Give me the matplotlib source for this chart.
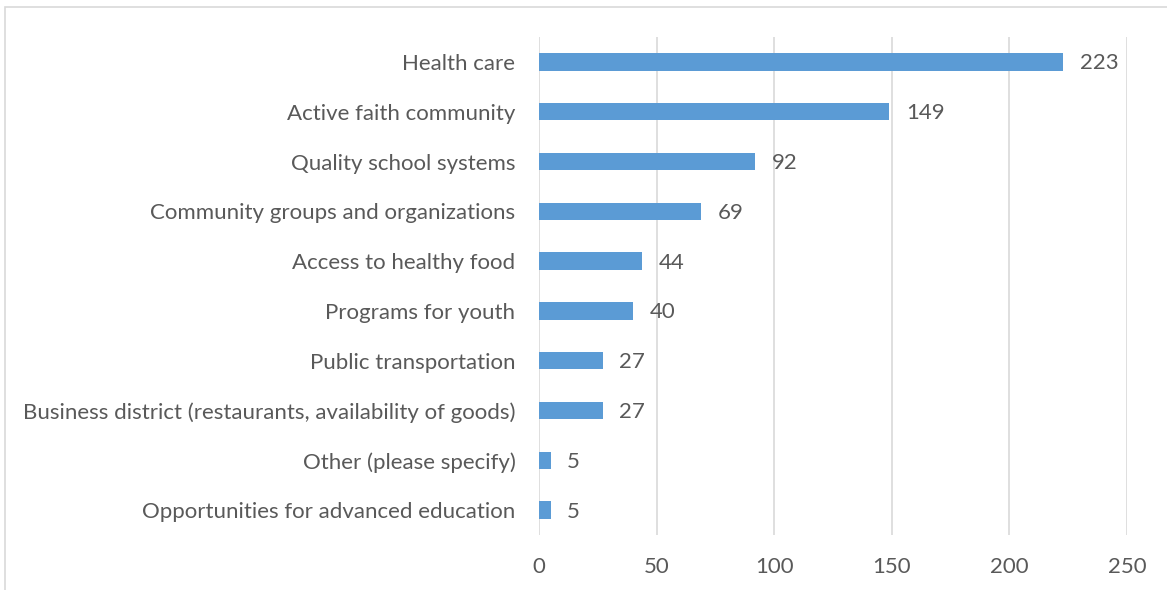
import matplotlib.pyplot as plt
from matplotlib.patches import Rectangle

categories = ["Health care", "Active faith community", "Quality school systems",
              "Community groups and organizations", "Access to healthy food",
              "Programs for youth", "Public transportation",
              "Business district (restaurants, availability of goods)",
              "Other (please specify)", "Opportunities for advanced education"]
counts = [223, 149, 92, 69, 44, 40, 27, 27, 5, 5]
xticks = [0, 50, 100, 150, 200, 250]

plt.rcParams['font.family'] = ['Lato', 'DejaVu Sans']
text_color = '#595959'
fs = 16

fig = plt.figure(figsize=(11.67, 5.9), dpi=100)
ax = fig.add_axes([539/1167, 1 - 535/590, (1127 - 539)/1167, (535 - 37)/590])

ypos = list(range(len(categories)))
ax.barh(ypos, counts, height=0.35, color='#5B9BD5', zorder=3)
for y, v in zip(ypos, counts):
    ax.text(v + 7, y + 0.03, str(v), va='center', ha='left', fontsize=fs, color=text_color)

ax.set_yticks(ypos)
ax.set_yticklabels(categories, fontsize=fs, color=text_color)
ax.set_ylim(len(categories) - 0.5, -0.5)
ax.set_xlim(0, 250)
ax.set_xticks(xticks)
ax.set_xticklabels([str(t) for t in xticks], fontsize=fs, color=text_color)
ax.tick_params(axis='both', length=0)
ax.tick_params(axis='y', pad=17)
ax.tick_params(axis='x', pad=16)
ax.grid(axis='x', color='#D9D9D9', linewidth=1.2, zorder=0)
for s in ax.spines.values():
    s.set_visible(False)

# chart area border (cut off at the right and bottom edges)
fig.patches.append(Rectangle((5/1167, -0.1), 1.2, 1 - 7/590 + 0.1, transform=fig.transFigure,
                             fill=False, edgecolor='#D9D9D9', linewidth=1.2))

fig.savefig('out.png', dpi=100)
